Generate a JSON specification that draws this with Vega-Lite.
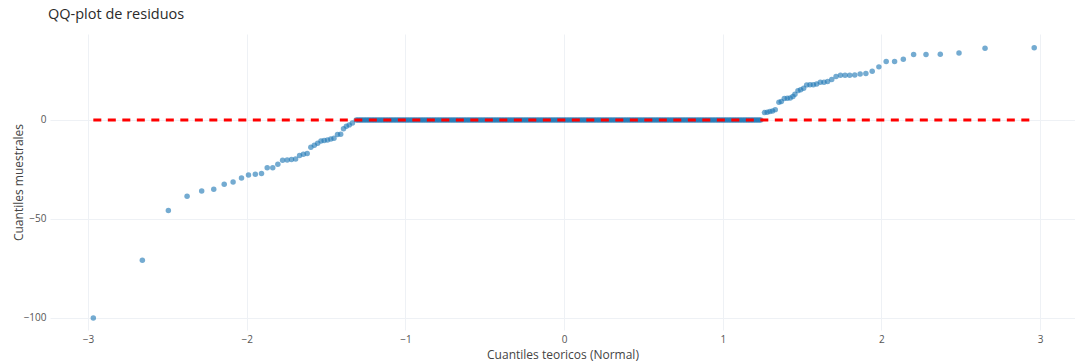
{
  "$schema": "https://vega.github.io/schema/vega-lite/v6.json",
  "autosize": "none",
  "width": 1025,
  "height": 296,
  "padding": {"left": 50, "top": 34, "right": 0, "bottom": 32},
  "background": "white",
  "title": {"text": "QQ-plot de residuos", "anchor": "start", "frame": "group", "font": "Open Sans", "fontSize": 14.5, "fontWeight": "normal", "color": "#2a2a2a", "dx": -2, "offset": 12},
  "config": {
    "view": {"stroke": null},
    "axis": {"labelFont": "Open Sans", "labelFontSize": 10, "labelColor": "#555", "titleFont": "Open Sans", "titleFontSize": 12, "titleFontWeight": "normal", "titleColor": "#444", "gridColor": "#eef1f5", "gridWidth": 1, "domain": false, "ticks": false, "labelPadding": 4}
  },
  "datasets": {
    "ref": [{"x": -2.967, "y": 0}, {"x": 2.963, "y": 0}],
    "pts": [
      {"x": -2.967, "y": -100}, {"x": -2.658, "y": -70.9}, {"x": -2.494, "y": -45.8}, {"x": -2.376, "y": -38.6}, {"x": -2.284, "y": -35.9}, {"x": -2.208, "y": -35.0}, {"x": -2.142, "y": -32.5}, {"x": -2.086, "y": -31.3}, {"x": -2.033, "y": -29.3}, {"x": -1.989, "y": -27.8}, {"x": -1.946, "y": -27.4}, {"x": -1.907, "y": -27.1}, {"x": -1.871, "y": -24.2}, {"x": -1.836, "y": -24.1}, {"x": -1.804, "y": -22.4}, {"x": -1.774, "y": -20.4}, {"x": -1.745, "y": -20.2}, {"x": -1.718, "y": -20.0}, {"x": -1.692, "y": -19.7}, {"x": -1.667, "y": -18.0}, {"x": -1.643, "y": -17.3}, {"x": -1.619, "y": -17.0}, {"x": -1.596, "y": -13.8}, {"x": -1.574, "y": -12.8}, {"x": -1.553, "y": -11.8}, {"x": -1.532, "y": -10.6}, {"x": -1.512, "y": -10.4}, {"x": -1.491, "y": -10.1}, {"x": -1.470, "y": -9.6}, {"x": -1.450, "y": -9.3}, {"x": -1.428, "y": -7.4}, {"x": -1.408, "y": -7.2}, {"x": -1.390, "y": -4.4}, {"x": -1.372, "y": -3.2}, {"x": -1.354, "y": -2.5}, {"x": -1.334, "y": -1.5},
      {"x": -1.31, "y": 0}, {"x": -1.30, "y": 0}, {"x": -1.29, "y": 0}, {"x": -1.28, "y": 0}, {"x": -1.27, "y": 0}, {"x": -1.26, "y": 0}, {"x": -1.25, "y": 0}, {"x": -1.24, "y": 0}, {"x": -1.23, "y": 0}, {"x": -1.22, "y": 0}, {"x": -1.21, "y": 0}, {"x": -1.20, "y": 0}, {"x": -1.19, "y": 0}, {"x": -1.18, "y": 0}, {"x": -1.17, "y": 0}, {"x": -1.16, "y": 0}, {"x": -1.15, "y": 0}, {"x": -1.14, "y": 0}, {"x": -1.13, "y": 0}, {"x": -1.12, "y": 0}, {"x": -1.11, "y": 0}, {"x": -1.10, "y": 0}, {"x": -1.09, "y": 0}, {"x": -1.08, "y": 0}, {"x": -1.07, "y": 0}, {"x": -1.06, "y": 0}, {"x": -1.05, "y": 0}, {"x": -1.04, "y": 0}, {"x": -1.03, "y": 0}, {"x": -1.02, "y": 0}, {"x": -1.01, "y": 0}, {"x": -1.00, "y": 0},
      {"x": -0.99, "y": 0}, {"x": -0.98, "y": 0}, {"x": -0.97, "y": 0}, {"x": -0.96, "y": 0}, {"x": -0.95, "y": 0}, {"x": -0.94, "y": 0}, {"x": -0.93, "y": 0}, {"x": -0.92, "y": 0}, {"x": -0.91, "y": 0}, {"x": -0.90, "y": 0}, {"x": -0.89, "y": 0}, {"x": -0.88, "y": 0}, {"x": -0.87, "y": 0}, {"x": -0.86, "y": 0}, {"x": -0.85, "y": 0}, {"x": -0.84, "y": 0}, {"x": -0.83, "y": 0}, {"x": -0.82, "y": 0}, {"x": -0.81, "y": 0}, {"x": -0.80, "y": 0}, {"x": -0.79, "y": 0}, {"x": -0.78, "y": 0}, {"x": -0.77, "y": 0}, {"x": -0.76, "y": 0}, {"x": -0.75, "y": 0}, {"x": -0.74, "y": 0}, {"x": -0.73, "y": 0}, {"x": -0.72, "y": 0}, {"x": -0.71, "y": 0}, {"x": -0.70, "y": 0}, {"x": -0.69, "y": 0}, {"x": -0.68, "y": 0}, {"x": -0.67, "y": 0}, {"x": -0.66, "y": 0}, {"x": -0.65, "y": 0}, {"x": -0.64, "y": 0}, {"x": -0.63, "y": 0}, {"x": -0.62, "y": 0}, {"x": -0.61, "y": 0}, {"x": -0.60, "y": 0}, {"x": -0.59, "y": 0}, {"x": -0.58, "y": 0}, {"x": -0.57, "y": 0}, {"x": -0.56, "y": 0}, {"x": -0.55, "y": 0}, {"x": -0.54, "y": 0}, {"x": -0.53, "y": 0}, {"x": -0.52, "y": 0}, {"x": -0.51, "y": 0}, {"x": -0.50, "y": 0},
      {"x": -0.49, "y": 0}, {"x": -0.48, "y": 0}, {"x": -0.47, "y": 0}, {"x": -0.46, "y": 0}, {"x": -0.45, "y": 0}, {"x": -0.44, "y": 0}, {"x": -0.43, "y": 0}, {"x": -0.42, "y": 0}, {"x": -0.41, "y": 0}, {"x": -0.40, "y": 0}, {"x": -0.39, "y": 0}, {"x": -0.38, "y": 0}, {"x": -0.37, "y": 0}, {"x": -0.36, "y": 0}, {"x": -0.35, "y": 0}, {"x": -0.34, "y": 0}, {"x": -0.33, "y": 0}, {"x": -0.32, "y": 0}, {"x": -0.31, "y": 0}, {"x": -0.30, "y": 0}, {"x": -0.29, "y": 0}, {"x": -0.28, "y": 0}, {"x": -0.27, "y": 0}, {"x": -0.26, "y": 0}, {"x": -0.25, "y": 0}, {"x": -0.24, "y": 0}, {"x": -0.23, "y": 0}, {"x": -0.22, "y": 0}, {"x": -0.21, "y": 0}, {"x": -0.20, "y": 0}, {"x": -0.19, "y": 0}, {"x": -0.18, "y": 0}, {"x": -0.17, "y": 0}, {"x": -0.16, "y": 0}, {"x": -0.15, "y": 0}, {"x": -0.14, "y": 0}, {"x": -0.13, "y": 0}, {"x": -0.12, "y": 0}, {"x": -0.11, "y": 0}, {"x": -0.10, "y": 0}, {"x": -0.09, "y": 0}, {"x": -0.08, "y": 0}, {"x": -0.07, "y": 0}, {"x": -0.06, "y": 0}, {"x": -0.05, "y": 0}, {"x": -0.04, "y": 0}, {"x": -0.03, "y": 0}, {"x": -0.02, "y": 0}, {"x": -0.01, "y": 0}, {"x": 0.00, "y": 0},
      {"x": 0.01, "y": 0}, {"x": 0.02, "y": 0}, {"x": 0.03, "y": 0}, {"x": 0.04, "y": 0}, {"x": 0.05, "y": 0}, {"x": 0.06, "y": 0}, {"x": 0.07, "y": 0}, {"x": 0.08, "y": 0}, {"x": 0.09, "y": 0}, {"x": 0.10, "y": 0}, {"x": 0.11, "y": 0}, {"x": 0.12, "y": 0}, {"x": 0.13, "y": 0}, {"x": 0.14, "y": 0}, {"x": 0.15, "y": 0}, {"x": 0.16, "y": 0}, {"x": 0.17, "y": 0}, {"x": 0.18, "y": 0}, {"x": 0.19, "y": 0}, {"x": 0.20, "y": 0}, {"x": 0.21, "y": 0}, {"x": 0.22, "y": 0}, {"x": 0.23, "y": 0}, {"x": 0.24, "y": 0}, {"x": 0.25, "y": 0}, {"x": 0.26, "y": 0}, {"x": 0.27, "y": 0}, {"x": 0.28, "y": 0}, {"x": 0.29, "y": 0}, {"x": 0.30, "y": 0}, {"x": 0.31, "y": 0}, {"x": 0.32, "y": 0}, {"x": 0.33, "y": 0}, {"x": 0.34, "y": 0}, {"x": 0.35, "y": 0}, {"x": 0.36, "y": 0}, {"x": 0.37, "y": 0}, {"x": 0.38, "y": 0}, {"x": 0.39, "y": 0}, {"x": 0.40, "y": 0}, {"x": 0.41, "y": 0}, {"x": 0.42, "y": 0}, {"x": 0.43, "y": 0}, {"x": 0.44, "y": 0}, {"x": 0.45, "y": 0}, {"x": 0.46, "y": 0}, {"x": 0.47, "y": 0}, {"x": 0.48, "y": 0}, {"x": 0.49, "y": 0}, {"x": 0.50, "y": 0},
      {"x": 0.51, "y": 0}, {"x": 0.52, "y": 0}, {"x": 0.53, "y": 0}, {"x": 0.54, "y": 0}, {"x": 0.55, "y": 0}, {"x": 0.56, "y": 0}, {"x": 0.57, "y": 0}, {"x": 0.58, "y": 0}, {"x": 0.59, "y": 0}, {"x": 0.60, "y": 0}, {"x": 0.61, "y": 0}, {"x": 0.62, "y": 0}, {"x": 0.63, "y": 0}, {"x": 0.64, "y": 0}, {"x": 0.65, "y": 0}, {"x": 0.66, "y": 0}, {"x": 0.67, "y": 0}, {"x": 0.68, "y": 0}, {"x": 0.69, "y": 0}, {"x": 0.70, "y": 0}, {"x": 0.71, "y": 0}, {"x": 0.72, "y": 0}, {"x": 0.73, "y": 0}, {"x": 0.74, "y": 0}, {"x": 0.75, "y": 0}, {"x": 0.76, "y": 0}, {"x": 0.77, "y": 0}, {"x": 0.78, "y": 0}, {"x": 0.79, "y": 0}, {"x": 0.80, "y": 0}, {"x": 0.81, "y": 0}, {"x": 0.82, "y": 0}, {"x": 0.83, "y": 0}, {"x": 0.84, "y": 0}, {"x": 0.85, "y": 0}, {"x": 0.86, "y": 0}, {"x": 0.87, "y": 0}, {"x": 0.88, "y": 0}, {"x": 0.89, "y": 0}, {"x": 0.90, "y": 0}, {"x": 0.91, "y": 0}, {"x": 0.92, "y": 0}, {"x": 0.93, "y": 0}, {"x": 0.94, "y": 0}, {"x": 0.95, "y": 0}, {"x": 0.96, "y": 0}, {"x": 0.97, "y": 0}, {"x": 0.98, "y": 0}, {"x": 0.99, "y": 0}, {"x": 1.00, "y": 0},
      {"x": 1.01, "y": 0}, {"x": 1.02, "y": 0}, {"x": 1.03, "y": 0}, {"x": 1.04, "y": 0}, {"x": 1.05, "y": 0}, {"x": 1.06, "y": 0}, {"x": 1.07, "y": 0}, {"x": 1.08, "y": 0}, {"x": 1.09, "y": 0}, {"x": 1.10, "y": 0}, {"x": 1.11, "y": 0}, {"x": 1.12, "y": 0}, {"x": 1.13, "y": 0}, {"x": 1.14, "y": 0}, {"x": 1.15, "y": 0}, {"x": 1.16, "y": 0}, {"x": 1.17, "y": 0}, {"x": 1.18, "y": 0}, {"x": 1.19, "y": 0}, {"x": 1.20, "y": 0}, {"x": 1.21, "y": 0}, {"x": 1.22, "y": 0}, {"x": 1.23, "y": 0}, {"x": 1.24, "y": 0},
      {"x": 1.263, "y": 3.7}, {"x": 1.280, "y": 3.9}, {"x": 1.297, "y": 4.2}, {"x": 1.314, "y": 4.5}, {"x": 1.331, "y": 5.2}, {"x": 1.354, "y": 8.9}, {"x": 1.369, "y": 9.3}, {"x": 1.388, "y": 10.8}, {"x": 1.407, "y": 10.9}, {"x": 1.425, "y": 11.1}, {"x": 1.442, "y": 11.8}, {"x": 1.455, "y": 13.0}, {"x": 1.474, "y": 14.8}, {"x": 1.491, "y": 15.2}, {"x": 1.510, "y": 16.0}, {"x": 1.529, "y": 17.7}, {"x": 1.550, "y": 17.8}, {"x": 1.571, "y": 17.8}, {"x": 1.592, "y": 18.2}, {"x": 1.615, "y": 19.0}, {"x": 1.638, "y": 19.0}, {"x": 1.661, "y": 19.4}, {"x": 1.687, "y": 20.4}, {"x": 1.714, "y": 21.9}, {"x": 1.742, "y": 22.6}, {"x": 1.771, "y": 22.6}, {"x": 1.800, "y": 22.6}, {"x": 1.832, "y": 22.7}, {"x": 1.866, "y": 23.2}, {"x": 1.902, "y": 23.4}, {"x": 1.942, "y": 24.6}, {"x": 1.984, "y": 26.8}, {"x": 2.030, "y": 29.5}, {"x": 2.083, "y": 29.5}, {"x": 2.138, "y": 30.7}, {"x": 2.203, "y": 33.0}, {"x": 2.281, "y": 33.0}, {"x": 2.371, "y": 33.2}, {"x": 2.489, "y": 33.8}, {"x": 2.653, "y": 36.2}, {"x": 2.963, "y": 36.4}
    ]
  },
  "layer": [
    {
      "data": {"name": "pts"},
      "mark": {"type": "circle", "size": 30, "color": "#1f77b4", "opacity": 0.62},
      "encoding": {
        "x": {"field": "x", "type": "quantitative", "scale": {"domain": [-3.24, 3.22], "nice": false, "zero": false}, "axis": {"title": "Cuantiles teoricos (Normal)", "values": [-3, -2, -1, 0, 1, 2, 3], "format": "d", "titlePadding": 5}},
        "y": {"field": "y", "type": "quantitative", "scale": {"domain": [-106.1, 43.4], "nice": false, "zero": false}, "axis": {"title": "Cuantiles muestrales", "values": [-100, -50, 0], "format": "d", "titlePadding": -2}}
      }
    },
    {
      "data": {"name": "ref"},
      "mark": {"type": "line", "color": "#ff0000", "strokeWidth": 3, "strokeDash": [8, 6.5]},
      "encoding": {
        "x": {"field": "x", "type": "quantitative"},
        "y": {"field": "y", "type": "quantitative"}
      }
    }
  ]
}
